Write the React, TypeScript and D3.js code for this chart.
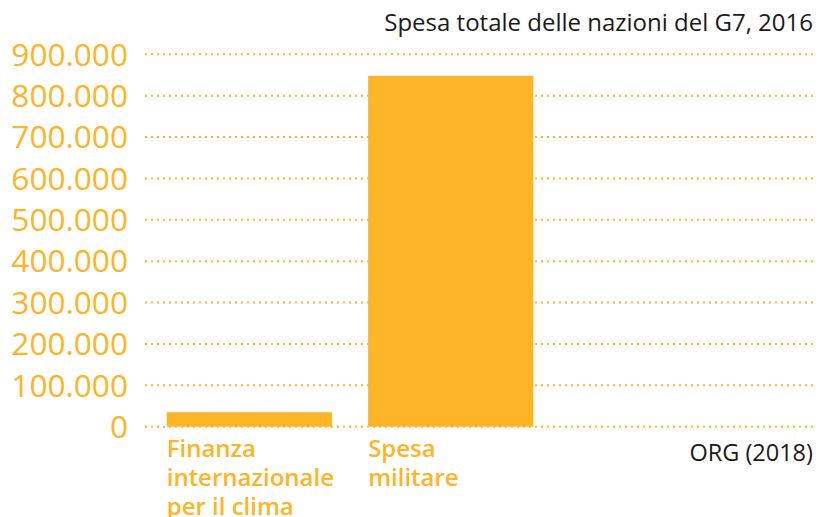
import React from "react";
import * as d3 from "d3";

const categories = ["Finanza internazionale per il clima", "Spesa militare"];
const categoryLines = [["Finanza", "internazionale", "per il clima"], ["Spesa", "militare"]];
const values = [35000, 848000];
const yTicks = [0, 100000, 200000, 300000, 400000, 500000, 600000, 700000, 800000, 900000];
const title = "Spesa totale delle nazioni del G7, 2016";
const source = "ORG (2018)";

const W = 824;
const H = 517;
const ORANGE = "#fdb426";
const FONT = "'Open Sans', sans-serif";

export default function App() {
  const y = d3.scaleLinear().domain([0, 900000]).range([426.7, 54.3]);
  const x = d3.scaleBand().domain(categories).range([166.7, 533.3]).paddingInner(0.18).paddingOuter(0);
  const fmt = (v: number) => d3.format(",")(v).replace(/,/g, ".");
  return (
    <svg width={W} height={H} style={{ position: "absolute", left: 0, top: 0 }}>
      <text x={813} y={31} textAnchor="end" fontFamily={FONT} fontSize={24} fill="#1a1a1a">{title}</text>
      {yTicks.map((t) => (
        <g key={t}>
          <line x1={145} x2={814} y1={y(t)} y2={y(t)} stroke={ORANGE} strokeWidth={2} strokeDasharray="2,4" />
          <text x={128} y={y(t) + 11.3} textAnchor="end" fontFamily={FONT} fontSize={31.6} fill={ORANGE}>{fmt(t)}</text>
        </g>
      ))}
      {categories.map((c, i) => (
        <rect key={c} x={x(c)} y={y(values[i])} width={x.bandwidth()} height={y(0) - y(values[i])} fill={ORANGE} />
      ))}
      {categories.map((c, i) => (
        <text key={c} fontFamily={FONT} fontSize={24} fontWeight={600} fill={ORANGE}>
          {categoryLines[i].map((l, j) => (
            <tspan key={j} x={x(c)} y={457 + j * 29}>{l}</tspan>
          ))}
        </text>
      ))}
      <text x={813} y={461} textAnchor="end" fontFamily={FONT} fontSize={23.5} fill="#1a1a1a">{source}</text>
    </svg>
  );
}
